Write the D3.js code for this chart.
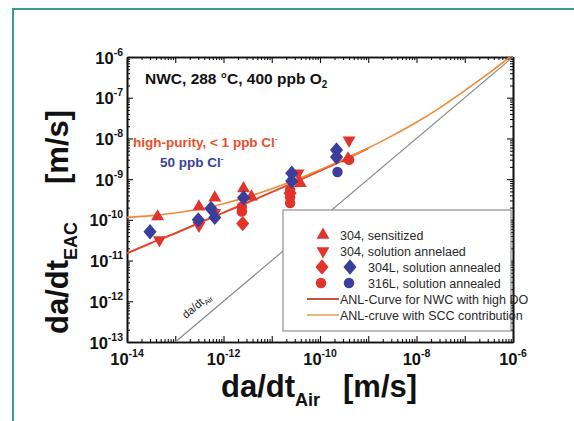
<!DOCTYPE html>
<html><head><meta charset="utf-8">
<script src="https://cdn.jsdelivr.net/npm/d3@7"></script>
<style>
html,body{margin:0;padding:0;background:#fff;}
svg{display:block;font-family:"Liberation Sans",Arial,Helvetica,sans-serif;}
</style></head><body>
<svg id="chart" width="574" height="421"></svg>
<script>
// Crack growth rates [m/s]: [da/dt in air, da/dt in environment]
const sensitized304 = [[4.3e-14,1.2e-10],[3.1e-13,2.1e-10],[6.6e-13,3.5e-10],[2.6e-12,5.9e-10],[3.8e-12,3.7e-10],[3.9e-11,7.9e-10],[3.8e-10,3.2e-9]];
const annealed304 = [[4.7e-14,3.2e-11],[3.1e-13,7.2e-11],[6.6e-13,1.5e-10],[3.5e-11,1.4e-9],[4.0e-10,9.0e-9]];
const l304Pure = [[2.5e-12,8.1e-11],[2.4e-11,4.5e-10]];
const l304Cl = [[3.0e-14,5.1e-11],[3.0e-13,1.0e-10],[5.5e-13,1.9e-10],[6.6e-13,1.15e-10],[2.6e-12,3.5e-10],[2.6e-11,1.4e-9],[2.6e-11,9.0e-10],[2.2e-10,5.2e-9],[2.2e-10,3.5e-9]];
const l316Pure = [[2.4e-12,2.1e-10],[2.4e-12,1.6e-10],[2.4e-11,5.4e-10],[2.4e-11,3.6e-10],[2.4e-11,2.6e-10],[4.0e-10,3.0e-9]];
const l316Cl = [[2.3e-10,1.5e-9]];

// ANL reference curves [m/s]
const curveAir = [1e-14,3.16e-14,1e-13,3.16e-13,1e-12,3.16e-12,1e-11,3.16e-11,1e-10,3.16e-10,1e-9,3.16e-9,1e-8,3.16e-8,1e-7,3.16e-7,1e-6];
const anlNwc = [1.5e-11,2.7e-11,4.7e-11,8.4e-11,1.5e-10,2.67e-10,4.8e-10,8.7e-10,1.6e-9,3.0e-9,5.7e-9,1.16e-8,2.5e-8,5.8e-8,1.5e-7,4.0e-7,1.15e-6];
const anlScc = [1.15e-10,1.27e-10,1.47e-10,1.84e-10,2.5e-10,3.67e-10,5.8e-10,9.7e-10,1.7e-9,3.1e-9,5.8e-9,1.17e-8,2.5e-8,5.8e-8,1.5e-7,4.0e-7,1.15e-6];

const xExp = [-14,-13,-12,-11,-10,-9,-8,-7,-6];
const xLabelExp = [-14,-12,-10,-8,-6];
const yExp = [-13,-12,-11,-10,-9,-8,-7,-6];

const RED = "#e3342b", BLUE = "#3b3f9c";
const svg = d3.select("#chart");

// outer frame
svg.append("path").attr("d","M13,421V9H574").attr("fill","none").attr("stroke","#3c9c94").attr("stroke-width",2);

const L=127, R=513, T=57, B=342;
const x = d3.scaleLog().domain([1e-14,1e-6]).range([L,R]);
const y = d3.scaleLog().domain([1e-13,1e-6]).range([B,T]);

svg.append("defs").append("clipPath").attr("id","plotclip")
  .append("rect").attr("x",L).attr("y",T).attr("width",R-L).attr("height",B-T);

// axes with inward ticks
const majX = xExp.map(e=>Math.pow(10,e));
const minX = []; xExp.slice(0,-1).forEach(e=>{for(let k=2;k<10;k++) minX.push(k*Math.pow(10,e));});
const majY = yExp.map(e=>Math.pow(10,e));
const minY = []; yExp.slice(0,-1).forEach(e=>{for(let k=2;k<10;k++) minY.push(k*Math.pow(10,e));});

function styleAxis(g){
  g.selectAll("text").remove();
  g.select(".domain").attr("stroke","#111").attr("stroke-width",1.6);
  g.selectAll(".tick line").attr("stroke","#111").attr("stroke-width",1.1);
}
const axes = [
  [d3.axisBottom(x), `translate(0,${B})`, majX, minX],
  [d3.axisTop(x), `translate(0,${T})`, majX, minX],
  [d3.axisLeft(y), `translate(${L},0)`, majY, minY],
  [d3.axisRight(y), `translate(${R},0)`, majY, minY]
];
axes.forEach(([ax,tr,maj,mn])=>{
  svg.append("g").attr("transform",tr)
    .call(ax.tickValues(mn).tickSize(-3).tickSizeOuter(0).tickFormat(""))
    .call(styleAxis);
  svg.append("g").attr("transform",tr)
    .call(ax.tickValues(maj).tickSize(-6).tickSizeOuter(0).tickFormat(""))
    .call(styleAxis);
});

// tick labels as 10^n
function powLabel(sel, e){
  sel.append("tspan").text("10");
  sel.append("tspan").attr("font-size",10.5).attr("dy",-8).text(e);
}
xLabelExp.forEach(e=>{
  svg.append("text").attr("x",x(Math.pow(10,e))).attr("y",365)
    .attr("text-anchor","middle").attr("font-size",16.5).attr("font-weight","bold").attr("fill","#111")
    .call(powLabel,e);
});
yExp.forEach(e=>{
  svg.append("text").attr("x",L-4).attr("y",y(Math.pow(10,e))+6.5)
    .attr("text-anchor","end").attr("font-size",16.5).attr("font-weight","bold").attr("fill","#111")
    .call(powLabel,e);
});

// axis titles
const xt = svg.append("text").attr("x",221).attr("y",397).attr("font-size",31).attr("font-weight","bold").attr("fill","#111");
xt.append("tspan").text("da/dt");
xt.append("tspan").attr("font-size",18).attr("dy",9).text("Air");
svg.append("text").attr("x",343).attr("y",397).attr("font-size",31).attr("font-weight","bold").attr("fill","#111").text("[m/s]");

const yt = svg.append("text").attr("transform","translate(68,334) rotate(-90)").attr("font-size",31).attr("font-weight","bold").attr("fill","#111");
yt.append("tspan").text("da/dt");
yt.append("tspan").attr("font-size",18).attr("dy",9).text("EAC");
svg.append("text").attr("transform","translate(68,184) rotate(-90)").attr("font-size",31).attr("font-weight","bold").attr("fill","#111").text("[m/s]");

const plot = svg.append("g").attr("clip-path","url(#plotclip)");

// da/dt_EAC = da/dt_Air reference line
plot.append("line").attr("x1",x(1e-13)).attr("y1",y(1e-13)).attr("x2",x(1e-6)).attr("y2",y(1e-6))
  .attr("stroke","#8a8a8a").attr("stroke-width",1.2);
const ang = Math.atan2(y(1e-6)-y(1e-13), x(1e-6)-x(1e-13))*180/Math.PI;
const dl = svg.append("text").attr("transform",`translate(186,319) rotate(${ang})`).attr("font-size",11).attr("fill","#222");
dl.append("tspan").text("da/dt");
dl.append("tspan").attr("font-size",7.5).attr("dy",3).text("Air");

// ANL curves
const line = d3.line().x(d=>x(d[0])).y(d=>y(d[1])).curve(d3.curveMonotoneX);
const nwcPts = curveAir.map((a,i)=>[a,anlNwc[i]]).filter(d=>d[0]<=1.01e-9);
const sccPts = curveAir.map((a,i)=>[a,anlScc[i]]);
plot.append("path").attr("d",line(nwcPts)).attr("fill","none").attr("stroke","#e4482a").attr("stroke-width",2);
plot.append("path").attr("d",line(sccPts)).attr("fill","none").attr("stroke","#f08a36").attr("stroke-width",1.6);

// markers
const diamond = {draw(ctx,size){const h=Math.sqrt(size)*0.82,w=Math.sqrt(size)*0.7;ctx.moveTo(0,-h);ctx.lineTo(w,0);ctx.lineTo(0,h);ctx.lineTo(-w,0);ctx.closePath();}};
const downTri = {draw(ctx,size){const s=Math.sqrt(size/(Math.sqrt(3)/4));const hh=s*Math.sqrt(3)/2;ctx.moveTo(-s/2,-hh/3);ctx.lineTo(s/2,-hh/3);ctx.lineTo(0,hh*2/3);ctx.closePath();}};
const upTri = {draw(ctx,size){const s=Math.sqrt(size/(Math.sqrt(3)/4));const hh=s*Math.sqrt(3)/2;ctx.moveTo(-s/2,hh/3);ctx.lineTo(s/2,hh/3);ctx.lineTo(0,-hh*2/3);ctx.closePath();}};
const sym = {up:d3.symbol().type(upTri).size(72)(), down:d3.symbol().type(downTri).size(72)(),
  dia:d3.symbol().type(diamond).size(88)(), circ:d3.symbol().type(d3.symbolCircle).size(86)()};

function drawSeries(data, shape, color){
  plot.append("g").selectAll("path").data(data).join("path")
    .attr("d",sym[shape]).attr("fill",color)
    .attr("transform",d=>`translate(${x(d[0])},${y(d[1])})`);
}
drawSeries(l316Pure,"circ",RED);
drawSeries(l304Pure,"dia",RED);
drawSeries(annealed304,"down",RED);
drawSeries(sensitized304,"up",RED);
drawSeries(l304Cl,"dia",BLUE);
drawSeries(l316Cl,"circ",BLUE);

// annotations
const t1 = svg.append("text").attr("x",145).attr("y",84).attr("font-size",15.5).attr("font-weight","bold").attr("fill","#111");
t1.append("tspan").text("NWC, 288 °C, 400 ppb O");
t1.append("tspan").attr("font-size",10).attr("dy",4).text("2");
const t2 = svg.append("text").attr("x",133).attr("y",147).attr("font-size",13.5).attr("font-weight","bold").attr("fill","#e8502a");
t2.append("tspan").text("high-purity, < 1 ppb Cl");
t2.append("tspan").attr("font-size",8).attr("dy",-6).text("-");
const t3 = svg.append("text").attr("x",160).attr("y",167).attr("font-size",13.5).attr("font-weight","bold").attr("fill",BLUE);
t3.append("tspan").text("50 ppb Cl");
t3.append("tspan").attr("font-size",8).attr("dy",-6).text("-");

// legend
const lg = svg.append("g");
lg.append("rect").attr("x",283).attr("y",210).attr("width",228).attr("height",121).attr("fill","#fff").attr("stroke","#7a7a7a").attr("stroke-width",1);
const rows = [
  {marks:[["up",RED,323]], label:"304, sensitized", tx:340},
  {marks:[["down",RED,323]], label:"304, solution annelaed", tx:340},
  {marks:[["dia",RED,322],["dia",BLUE,350]], label:"304L, solution annealed", tx:368},
  {marks:[["circ",RED,321],["circ",BLUE,349]], label:"316L, solution annealed", tx:368},
  {line:"#c8543e", label:"ANL-Curve for NWC with high DO", tx:340},
  {line:"#e8b678", label:"ANL-cruve with SCC contribution", tx:340}
];
rows.forEach((r,i)=>{
  const cy = 235 + i*16;
  if(r.marks) r.marks.forEach(([s,c,mx])=>{
    lg.append("path").attr("d",sym[s]).attr("fill",c).attr("transform",`translate(${mx},${cy})`);
  });
  if(r.line) lg.append("line").attr("x1",307).attr("x2",339).attr("y1",cy).attr("y2",cy).attr("stroke",r.line).attr("stroke-width",2);
  lg.append("text").attr("x",r.tx).attr("y",cy+4.5).attr("font-size",12.5).attr("fill","#2a2a2a").text(r.label);
});
</script>
</body></html>
